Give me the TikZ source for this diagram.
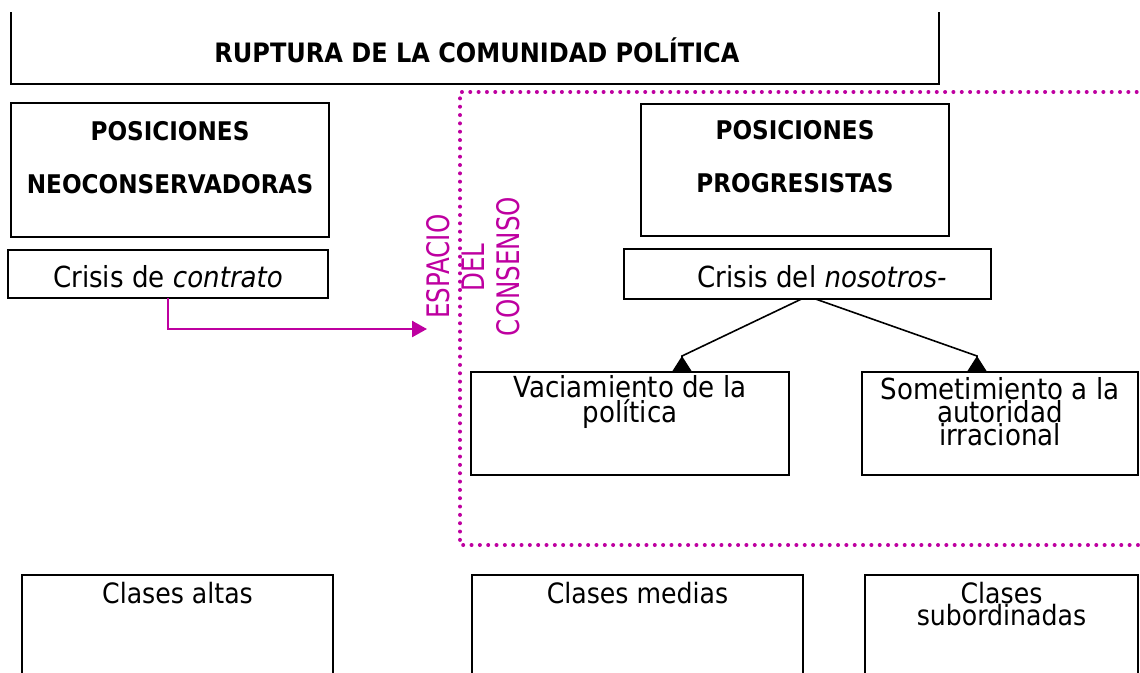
\documentclass[tikz,border=0pt]{standalone}
\usepackage{fontspec}
\usepackage{graphicx}
\setmainfont{DejaVu Sans Condensed}[
  BoldFont={DejaVu Sans Condensed Bold},
  ItalicFont={DejaVu Sans Condensed Oblique},
  BoldItalicFont={DejaVu Sans Condensed Bold Oblique}]
\usetikzlibrary{arrows.meta}
\definecolor{mag}{RGB}{190,0,160}
\begin{document}
\begin{tikzpicture}[x=1pt,y=-1pt,
  box/.style={draw, line width=2pt, inner sep=0pt, outer sep=0pt},
  boxline/.style={draw, line width=2pt},
  nt/.style={font=\fontsize{29}{22.7}\selectfont, align=center, inner sep=0pt},
  st/.style={font=\fontsize{28}{22}\selectfont, align=center, inner sep=0pt},
  bt/.style={font=\bfseries\fontsize{25.7}{53}\selectfont, align=center, inner sep=0pt},
  tt/.style={font=\bfseries\fontsize{26.7}{30}\selectfont, inner sep=0pt},
  mt/.style={font=\fontsize{31}{34}\selectfont, text=mag, inner sep=0pt, rotate=90},
  dots/.style={draw=mag, line width=4pt, line cap=round, dash pattern=on 0pt off 8.33pt},
  magarr/.style={draw=mag, line width=2.5pt, -{Triangle[length=15pt,width=16pt]}},
  blk/.style={draw, line width=1.6pt, -{Triangle[reversed,length=16pt,width=20pt]}}]
\useasboundingbox (0,0) rectangle (1140,672);
\clip (0,0) rectangle (1140,672);

% title box
\draw[boxline] (11,12) -- (11,84) -- (939,84) -- (939,12);
\node[tt, anchor=base] (title) at (477,62) {RUPTURA DE LA COMUNIDAD POLÍTICA};

% dotted consensus area
\draw[dots] (1170,92) -- (460,92) -- (460,545) -- (1170,545);

% boxes
\node[box, minimum width=318pt, minimum height=134pt] (neo) at (170,170) {};
\node[box, minimum width=320pt, minimum height=48pt] (contrato) at (168,274) {};
\node[box, minimum width=308pt, minimum height=132pt] (prog) at (795,170) {};
\node[box, minimum width=367pt, minimum height=50pt] (nos) at (807.5,274) {};
\node[box, minimum width=318pt, minimum height=103pt] (vac) at (630,423.5) {};
\node[box, minimum width=276pt, minimum height=103pt] (som) at (1000,423.5) {};
\node[box, minimum width=311pt, minimum height=125pt] (altas) at (177.5,637.5) {};
\node[box, minimum width=331pt, minimum height=125pt] (medias) at (637.5,637.5) {};
\node[box, minimum width=273pt, minimum height=125pt] (sub) at (1001.5,637.5) {};

% texts (anchor=base is the baseline of the last line)
\node[bt, anchor=base] (neoT) at (170,193) {POSICIONES\\NEOCONSERVADORAS};
\node[bt, anchor=base] (progT) at (795,192.5) {POSICIONES\\PROGRESISTAS};
\node[nt, anchor=base] (contratoT) at (168,287) {Crisis de \textit{contrato}};
\node[nt, anchor=base] (nosT) at (822,287) {Crisis del \textit{nosotros-}};
\node[nt, anchor=base] (vacT) at (630,422) {Vaciamiento de la\\política};
\node[nt, anchor=base] (somT) at (1000,445) {Sometimiento a la\\autoridad\\irracional};
\node[st, anchor=base] (altasT) at (177.5,603) {Clases altas};
\node[st, anchor=base] (mediasT) at (637.5,603) {Clases medias};
\node[st, anchor=base] (subT) at (1001.5,625) {Clases\\subordinadas};

% rotated magenta labels
\node[mt] (esp) at (438.5,266.5) {\scalebox{0.88}[1]{ESPACIO}};
\node[mt] (del) at (473,267.5) {\scalebox{0.88}[1]{DEL}};
\node[mt] (cons) at (508.5,266.5) {\scalebox{0.88}[1]{CONSENSO}};

% connectors
\coordinate (espTip) at (427,329);
\draw[magarr] (contrato.south) |- (espTip);

\coordinate (vacA) at (682,356);
\coordinate (somA) at (977,356);
\draw[blk] ([xshift=-6pt]nos.south) -- (vacA) -- ([xshift=52pt]vac.north);
\draw[blk] ([xshift=8pt]nos.south) -- (somA) -- ([xshift=-23pt]som.north);
\end{tikzpicture}
\end{document}
